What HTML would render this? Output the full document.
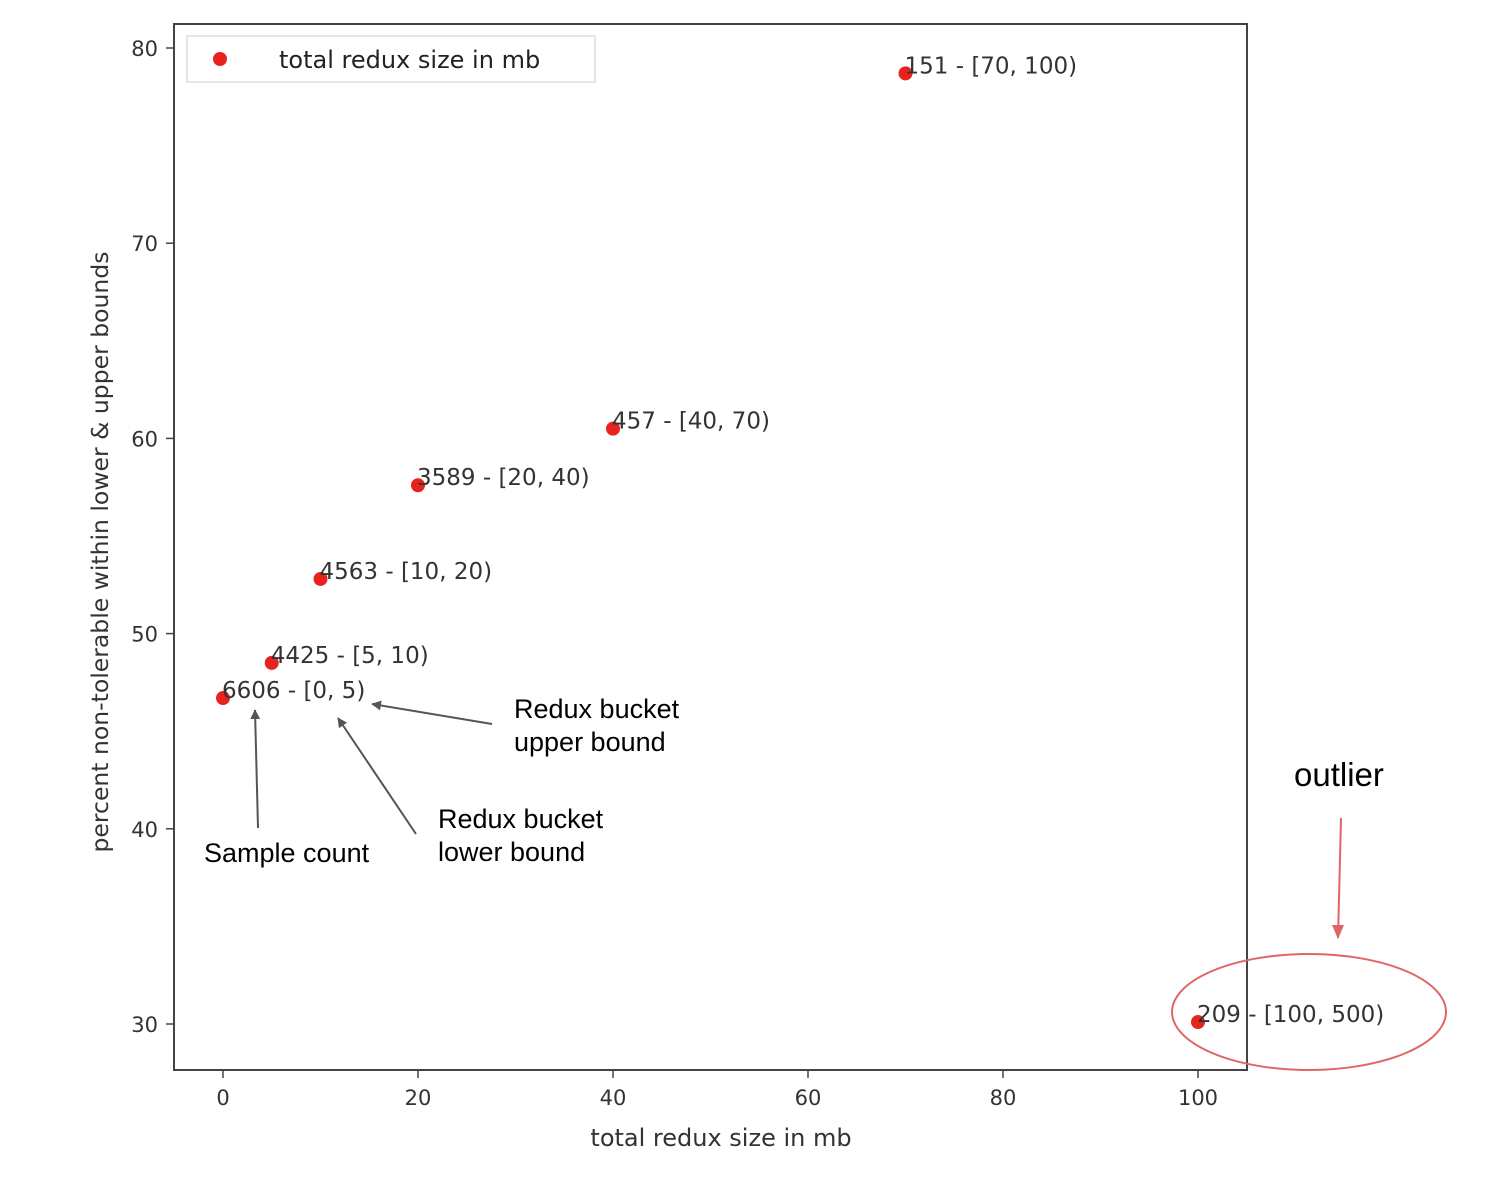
<!DOCTYPE html>
<html><head><meta charset="utf-8"><style>
body{margin:0;background:#fff;width:1488px;height:1182px;overflow:hidden}
svg{display:block}
text{font-family:"DejaVu Sans",sans-serif}
.ann{font-family:"Liberation Sans",sans-serif}
</style></head><body>
<svg id="chart" width="1488" height="1182">
<defs><marker id="ah" markerWidth="10" markerHeight="10" refX="9" refY="5" orient="auto" markerUnits="userSpaceOnUse"><path d="M0,0 L14,5 L0,10 z" fill="#555" transform="scale(0.7,1)"/></marker>
<marker id="ahr" markerWidth="14" markerHeight="14" refX="7" refY="13" orient="0" markerUnits="userSpaceOnUse"><path d="M1,0 L7,14 L13,0 z" fill="#e06666"/></marker></defs>
<rect x="174" y="24" width="1073" height="1046" fill="none" stroke="#444" stroke-width="2"/>
<g id="xt"></g><g id="yt"></g><g id="pts"></g>
<text x="721" y="1146" font-size="24" fill="#333" text-anchor="middle">total redux size in mb</text>
<text transform="translate(108,552) rotate(-90)" font-size="23.5" fill="#333" text-anchor="middle">percent non-tolerable within lower &amp; upper bounds</text>
<g>
<rect x="187" y="36" width="408" height="46" fill="#fff" stroke="#ddd" stroke-width="1.5"/>
<circle cx="220" cy="59" r="7" fill="#e8231f"/>
<text x="279" y="68" font-size="24" fill="#222">total redux size in mb</text></g>
<g font-size="27" fill="#000">
<line x1="492" y1="724" x2="372" y2="704" stroke="#555" stroke-width="2" marker-end="url(#ah)"/>
<text class="ann" x="514" y="718">Redux bucket</text><text class="ann" x="514" y="751">upper bound</text>
<line x1="416" y1="834" x2="338" y2="718" stroke="#555" stroke-width="2" marker-end="url(#ah)"/>
<text class="ann" x="438" y="828">Redux bucket</text><text class="ann" x="438" y="861">lower bound</text>
<line x1="258" y1="828" x2="255" y2="710" stroke="#555" stroke-width="2" marker-end="url(#ah)"/>
<text class="ann" x="204" y="862">Sample count</text>
<text class="ann" x="1294" y="786" font-size="33">outlier</text>
<line x1="1341" y1="818" x2="1338" y2="938" stroke="#e06666" stroke-width="2" marker-end="url(#ahr)"/>
<ellipse cx="1309" cy="1012" rx="137" ry="58" fill="none" stroke="#e06666" stroke-width="2"/>
</g>
</svg>
<script>
const xValues=[0,5,10,20,40,70,100];
const yValues=[46.7,48.5,52.8,57.6,60.5,78.7,30.1];
const pointLabels=["6606 - [0, 5)","4425 - [5, 10)","4563 - [10, 20)","3589 - [20, 40)","457 - [40, 70)","151 - [70, 100)","209 - [100, 500)"];
const xTicks=[0,20,40,60,80,100];
const yTicks=[30,40,50,60,70,80];
const X=v=>223+v*9.75, Y=v=>1024-(v-30)*19.52;
const NS="http://www.w3.org/2000/svg";
function mk(t,a,p){const e=document.createElementNS(NS,t);for(const k in a)e.setAttribute(k,a[k]);p.appendChild(e);return e;}
const xt=document.getElementById('xt'),yt=document.getElementById('yt'),pts=document.getElementById('pts');
xTicks.forEach(v=>{mk('line',{x1:X(v),x2:X(v),y1:1070,y2:1078,stroke:'#444','stroke-width':1.5},xt);
const t=mk('text',{x:X(v),y:1105,'font-size':21,fill:'#333','text-anchor':'middle'},xt);t.textContent=v;

});
yTicks.forEach(v=>{mk('line',{x1:166,x2:174,y1:Y(v),y2:Y(v),stroke:'#444','stroke-width':1.5},yt);
const t=mk('text',{x:158,y:Y(v)+8,'font-size':21,fill:'#333','text-anchor':'end'},yt);t.textContent=v;

});
xValues.forEach((v,i)=>{const c=mk('circle',{cx:X(v),cy:Y(yValues[i]),r:7,fill:'#e8231f'},pts);


const t=mk('text',{x:X(v)-1,y:Y(yValues[i])-0,'font-size':23,fill:'#333'},pts);t.textContent=pointLabels[i];

});
</script>
</body></html>
